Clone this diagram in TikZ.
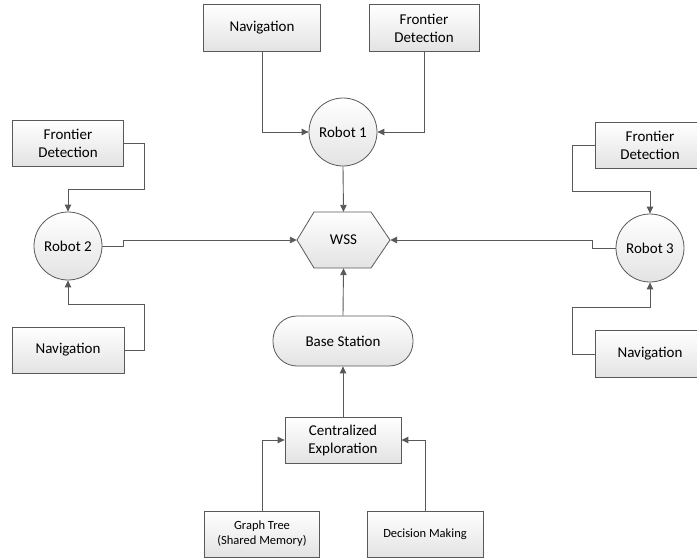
\documentclass[tikz,border=0pt]{standalone}
\usepackage{fontspec}
\setmainfont{Carlito}
\usetikzlibrary{arrows.meta}
\definecolor{ln}{HTML}{595959}
\begin{document}
\begin{tikzpicture}[x=1pt,y=-1pt,
  shadefill/.style={top color=white, bottom color=black!11},
  bigtext/.style={font=\fontsize{15}{18}\selectfont},
  smalltext/.style={font=\fontsize{12.5}{15}\selectfont},
  box/.style={draw=ln, line width=0.8pt, shadefill, minimum height=47pt, align=center, inner sep=0pt, bigtext},
  robot/.style={circle, draw=ln, line width=0.8pt, shadefill, minimum size=68pt, inner sep=0pt, bigtext},
  conn/.style={draw=ln, line width=0.9pt, -{Triangle[length=7pt,width=6.5pt]}}]
\useasboundingbox (0,0) rectangle (697,558);
\clip (0,0) rectangle (697,558);
% boxes
\node[box, minimum width=117pt] (nav1) at (262,28) {Navigation};
\node[box, minimum width=110pt] (fd1) at (424,28) {Frontier\\Detection};
\node[box, minimum width=111pt, minimum height=46pt] (fd2) at (68,143) {Frontier\\Detection};
\node[box, minimum width=112pt, minimum height=46pt] (nav2) at (68,350) {Navigation};
\node[box, minimum width=110pt, minimum height=46pt] (fd3) at (650,145) {Frontier\\Detection};
\node[box, minimum width=110pt, minimum height=47pt] (nav3) at (650,354) {Navigation};
\node[box, minimum width=116pt, minimum height=46pt] (cen) at (343,440) {Centralized\\Exploration};
\node[box, smalltext, minimum width=115pt, minimum height=46pt] (gt) at (262,534) {Graph Tree\\(Shared Memory)};
\node[box, smalltext, minimum width=116pt, minimum height=46pt] (dm) at (425,534) {Decision Making};
\node[box, minimum width=140pt, minimum height=50pt, rounded corners=24pt] (base) at (343,341) {Base Station};
% robots
\node[robot] (r1) at (343,132) {Robot 1};
\node[robot] (r2) at (68,246) {Robot 2};
\node[robot] (r3) at (650,248) {Robot 3};
% WSS hexagon
\path[draw=ln, line width=0.8pt, shadefill] (297,240) -- (314,212) -- (371,212) -- (390,240) -- (371,268) -- (314,268) -- cycle;
\node[minimum width=93pt, minimum height=56pt, inner sep=0pt, bigtext] (wss) at (343.5,240) {WSS};
% connectors
\draw[conn] (nav1.south) |- (r1.west);
\draw[conn] (fd1.south) |- (r1.east);
\draw[conn] (r1.south) -- (wss.north);
\draw[conn] (r2.east) -- ++(21,0) |- (wss.west);
\draw[conn] (fd2.east) -- ++(21,0) |- ([yshift=22pt]r2.north) -- (r2.north);
\draw[conn] (nav2.east) -- ++(20,0) |- ([yshift=-24pt]r2.south) -- (r2.south);
\draw[conn] (r3.west) -- ++(-23,0) |- (wss.east);
\draw[conn] (fd3.west) -- ++(-22,0) |- ([yshift=22pt]r3.north) -- (r3.north);
\draw[conn] (nav3.west) -- ++(-22,0) |- ([yshift=-25pt]r3.south) -- (r3.south);
\draw[conn] (base.north) -- (wss.south);
\draw[conn] (cen.north) -- (base.south);
\draw[conn] (gt.north) |- (cen.west);
\draw[conn] (dm.north) |- (cen.east);
\end{tikzpicture}
\end{document}
